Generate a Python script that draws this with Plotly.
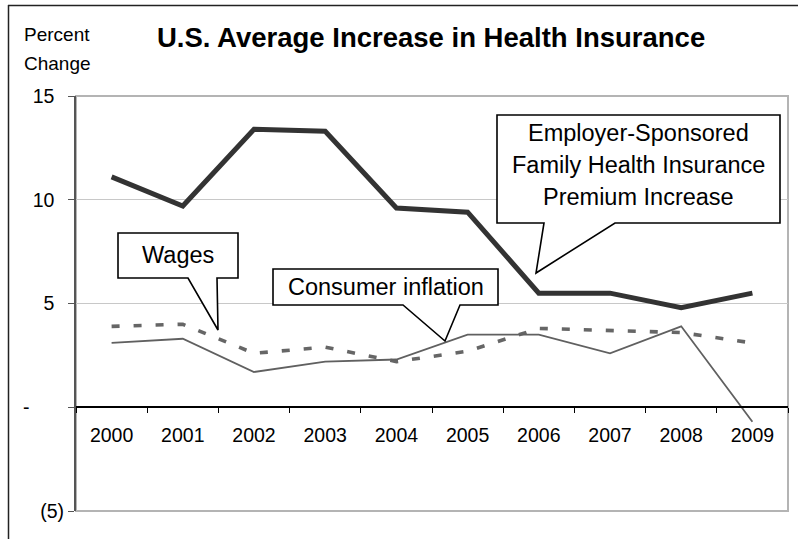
import plotly.graph_objects as go

# Annual percent change, 2000-2009
years = ["2000", "2001", "2002", "2003", "2004", "2005", "2006", "2007", "2008", "2009"]
premium = [11.1, 9.7, 13.4, 13.3, 9.6, 9.4, 5.5, 5.5, 4.8, 5.5]
wages = [3.9, 4.0, 2.6, 2.9, 2.2, 2.7, 3.8, 3.7, 3.6, 3.1]
cpi = [3.1, 3.3, 1.7, 2.2, 2.3, 3.5, 3.5, 2.6, 3.9, -0.7]

y_ticks = [-5, 0, 5, 10, 15]
y_labels = ["(5)", "-\u2002\u2002\u2002\u00a0", "5\u2002", "10\u2002", "15\u2002"]

W, H = 804, 539
L, R, T, B = 76, 788, 96, 511
FONT = "Liberation Sans, Arial, sans-serif"


def px(x):
    return (x - L) / (R - L)


def py(y):
    return (B - y) / (B - T)


def callout(points):
    d = "M " + " L ".join(f"{px(x):.5f},{py(y):.5f}" for x, y in points) + " Z"
    return dict(type="path", xref="paper", yref="paper", path=d,
                fillcolor="white", line=dict(color="black", width=1.6), layer="above")


fig = go.Figure()
fig.add_trace(go.Scatter(x=years, y=premium, mode="lines",
                         line=dict(color="#333333", width=5)))
fig.add_trace(go.Scatter(x=years, y=wages, mode="lines",
                         line=dict(color="#666666", width=3.6, dash="8px,14px")))
fig.add_trace(go.Scatter(x=years, y=cpi, mode="lines",
                         line=dict(color="#606060", width=1.8)))

shapes = [
    # plot frame
    dict(type="rect", xref="paper", yref="paper", x0=0, x1=1, y0=0, y1=1,
         line=dict(color="#b4b4b4", width=2), layer="below"),
    # outer frame
    dict(type="line", xref="paper", yref="paper", x0=px(8), x1=px(798), y0=py(5.5), y1=py(5.5),
         line=dict(color="#222222", width=1.5)),
    dict(type="line", xref="paper", yref="paper", x0=px(8.5), x1=px(8.5), y0=py(5), y1=py(545),
         line=dict(color="#222222", width=1.5)),
    callout([(118, 233), (238, 233), (238, 278), (217, 278), (218, 330), (188, 278), (118, 278)]),
    callout([(273, 269), (498, 269), (498, 305), (460, 305), (445, 341), (403, 305), (273, 305)]),
    callout([(497, 115), (780, 115), (780, 223), (615, 223), (536, 273), (544, 223), (497, 223)]),
]

annotations = []


def label(text, x, y, size, xanchor="center", bold=False):
    annotations.append(dict(
        text=f"<b>{text}</b>" if bold else text, xref="paper", yref="paper",
        x=px(x), y=py(y), xanchor=xanchor, yanchor="middle", showarrow=False,
        font=dict(family=FONT, size=size, color="black")))


label("U.S. Average Increase in Health Insurance", 430.5, 37, 27.5, bold=True)
label("Percent", 22, 35, 19, xanchor="left")
label("Change", 22, 63.5, 19, xanchor="left")
label("Wages", 178, 255, 23.5)
label("Consumer inflation", 385.5, 287, 23.5)
label("Employer-Sponsored", 638.5, 133, 23.5)
label("Family Health Insurance", 638.5, 164.5, 23.5)
label("Premium Increase", 638.5, 196.5, 23.5)

fig.update_layout(
    width=W, height=H, autosize=False,
    margin=dict(l=L, r=W - R, t=T, b=H - B, pad=0),
    paper_bgcolor="white", plot_bgcolor="white",
    showlegend=False,
    font=dict(family=FONT, size=19.5, color="black"),
    shapes=shapes, annotations=annotations,
    xaxis=dict(type="category", categoryorder="array", categoryarray=years,
               range=[-0.5, 9.5], anchor="free", position=py(407),
               showline=True, linecolor="black", linewidth=1.5,
               ticks="outside", tickson="boundaries", ticklen=5, tickwidth=1.2,
               tickcolor="black", showgrid=False, zeroline=False,
               tickfont=dict(family=FONT, size=19.5, color="black"),
               ticklabelstandoff=11),
    yaxis=dict(range=[-5, 15], tickmode="array", tickvals=y_ticks, ticktext=y_labels,
               showline=True, linecolor="#555555", linewidth=2,
               ticks="outside", ticklen=6, tickwidth=1.2, tickcolor="#555555",
               showgrid=True, gridcolor="#c8c8c8", gridwidth=1.3, zeroline=False,
               tickfont=dict(family=FONT, size=19.5, color="black")),
)

fig.write_html("out.html")
